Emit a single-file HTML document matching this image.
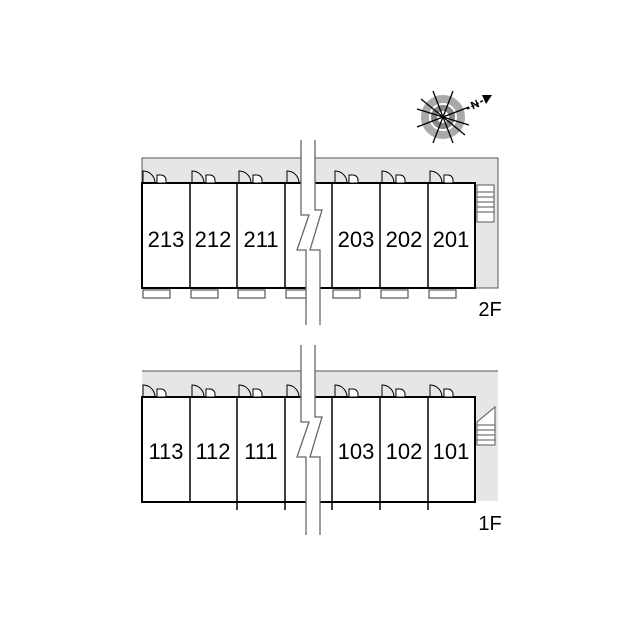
<!DOCTYPE html>
<html><head><style>body{margin:0;background:#fff}svg{display:block}</style></head><body>
<svg width="640" height="640" viewBox="0 0 640 640" xmlns="http://www.w3.org/2000/svg" font-family="Liberation Sans, sans-serif">
<defs>
<g id="door"><path d="M0,0 v-12 a12,12 0 0 1 12,12" fill="none" stroke="#000" stroke-width="1"/><path d="M14,0 v-8 h4 a5,5 0 0 1 5,5 v3z" fill="#fff" stroke="#000" stroke-width="1"/></g>
</defs>
<!-- compass -->
<g transform="translate(443,117)">
<circle r="18" fill="none" stroke="#aaa" stroke-width="8"/>
<circle r="9" fill="none" stroke="#888" stroke-width="6"/>
<g stroke="#000" stroke-width="1.3">
<line x1="-10" y1="-26" x2="10" y2="26"/><line x1="10" y1="-26" x2="-10" y2="26"/>
<line x1="-26" y1="-8" x2="26" y2="8"/><line x1="-26" y1="10" x2="26" y2="-10"/>
<line x1="-22" y1="-18" x2="22" y2="18"/>
</g>
<polygon points="49,-22 39,-22 43,-13" fill="#000"/>
<line x1="24" y1="-8" x2="45" y2="-19" stroke="#000" stroke-width="1.5" stroke-dasharray="3,2"/>
<text x="28" y="-8" font-size="11" font-weight="bold" transform="rotate(-25 30 -12)">N</text>
</g>
<!-- 2F -->
<rect x="142" y="158" width="356" height="130" fill="#e6e6e6" stroke="#555" stroke-width="1"/>
<rect x="142" y="183" width="333" height="105" fill="#fff" stroke="#000" stroke-width="2"/>
<g stroke="#000" stroke-width="1.5"><line x1="190" y1="183" x2="190" y2="288"/><line x1="237" y1="183" x2="237" y2="288"/><line x1="285" y1="183" x2="285" y2="288"/><line x1="332" y1="183" x2="332" y2="288"/><line x1="380" y1="183" x2="380" y2="288"/><line x1="428" y1="183" x2="428" y2="288"/></g>
<g fill="#fff" stroke="#555" stroke-width="1.2">
<rect x="143" y="290" width="27" height="8"/><rect x="191" y="290" width="27" height="8"/><rect x="238" y="290" width="27" height="8"/><rect x="286" y="290" width="27" height="8"/><rect x="333" y="290" width="27" height="8"/><rect x="381" y="290" width="27" height="8"/><rect x="429" y="290" width="27" height="8"/></g>
<g><use href="#door" x="143" y="183"/><use href="#door" x="192" y="183"/><use href="#door" x="239" y="183"/><use href="#door" x="287" y="183"/><use href="#door" x="335" y="183"/><use href="#door" x="382" y="183"/><use href="#door" x="430" y="183"/></g>
<g stroke="#555" stroke-width="1"><rect x="477" y="185" width="17" height="37" fill="#fff"/>
<line x1="477" y1="192" x2="494" y2="192"/><line x1="477" y1="197" x2="494" y2="197"/><line x1="477" y1="202" x2="494" y2="202"/><line x1="477" y1="207" x2="494" y2="207"/><line x1="477" y1="212" x2="494" y2="212"/></g>
<g font-size="22" text-anchor="middle"><text x="166" y="247">213</text><text x="213" y="247">212</text><text x="261" y="247">211</text><text x="356" y="247">203</text><text x="404" y="247">202</text><text x="451" y="247">201</text></g>
<text x="490" y="316" font-size="20" text-anchor="middle">2F</text>
<path d="M301,140 V215 H309 L297,250 H306 V325 H320 V250 H310 L322,210 H315 V140Z" fill="#fff" stroke="none"/>
<g fill="none" stroke="#666" stroke-width="1.3"><path d="M301,140 V215 H309 L297,250 H306 V325"/><path d="M315,140 V210 H322 L310,250 H320 V325"/></g>
<!-- 1F -->
<rect x="142" y="371" width="356" height="130" fill="#e6e6e6" stroke="none"/>
<line x1="142" y1="371" x2="498" y2="371" stroke="#555"/>
<rect x="142" y="397" width="333" height="105" fill="#fff" stroke="#000" stroke-width="2"/>
<g stroke="#000" stroke-width="1.5"><line x1="190" y1="397" x2="190" y2="502"/><line x1="237" y1="397" x2="237" y2="510"/><line x1="285" y1="397" x2="285" y2="510"/><line x1="332" y1="397" x2="332" y2="510"/><line x1="380" y1="397" x2="380" y2="510"/><line x1="428" y1="397" x2="428" y2="510"/></g>
<g><use href="#door" x="143" y="397"/><use href="#door" x="192" y="397"/><use href="#door" x="239" y="397"/><use href="#door" x="287" y="397"/><use href="#door" x="335" y="397"/><use href="#door" x="382" y="397"/><use href="#door" x="430" y="397"/></g>
<g stroke="#555" stroke-width="1"><path d="M477,422 L495,407 V445 H477Z" fill="#fff"/>
<line x1="477" y1="425" x2="495" y2="425"/><line x1="477" y1="430" x2="495" y2="430"/><line x1="477" y1="435" x2="495" y2="435"/><line x1="477" y1="440" x2="495" y2="440"/></g>
<g font-size="22" text-anchor="middle"><text x="166" y="459">113</text><text x="213" y="459">112</text><text x="261" y="459">111</text><text x="356" y="459">103</text><text x="404" y="459">102</text><text x="451" y="459">101</text></g>
<text x="490" y="530" font-size="20" text-anchor="middle">1F</text>
<path d="M301,345 V422 H309 L297,457 H306 V535 H320 V457 H310 L322,417 H315 V345Z" fill="#fff"/>
<g fill="none" stroke="#666" stroke-width="1.3"><path d="M301,345 V422 H309 L297,457 H306 V535"/><path d="M315,345 V417 H322 L310,457 H320 V535"/></g>
</svg>
</body></html>
